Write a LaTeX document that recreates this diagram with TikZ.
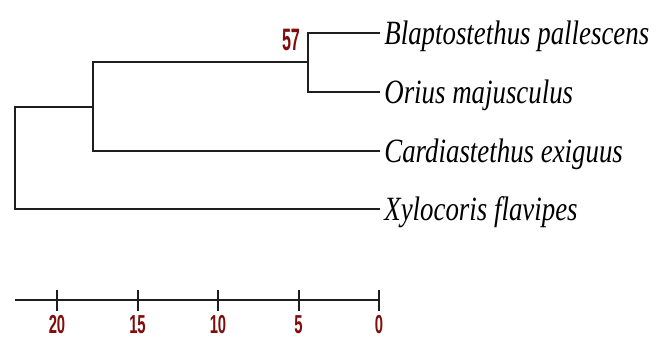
\documentclass[tikz,border=0pt]{standalone}
\usepackage{fontspec}
\setmainfont{Liberation Serif}
\newfontfamily\numfont{Liberation Sans}
\usepackage{tikz}
\usetikzlibrary{positioning,calc}
\definecolor{bootred}{RGB}{128,12,12}
\definecolor{branch}{RGB}{30,30,30}
\newcommand{\narrow}[2]{\scalebox{#1}[1]{#2}}

\begin{document}
\begin{tikzpicture}[
    x=0.5pt, y=-0.5pt,
    every node/.style={inner sep=0},
    branchline/.style={draw=branch, line width=1pt},
    taxon/.style={anchor=base west, yshift=-5.8pt,
        font=\fontsize{17}{18}\selectfont\itshape},
    support/.style={text=bootred, font=\numfont\bfseries\fontsize{15.5}{15.5}\selectfont},
    ticklabel/.style={text=bootred, font=\numfont\bfseries\fontsize{13}{13}\selectfont}
]
\useasboundingbox (0,0) rectangle (660,337) ;
% internal nodes and tips
\coordinate (root) at (15,107) ;
\coordinate (inner) at (93,62) ;
\coordinate (top) at (308,33) ;
\coordinate (tipB) at (380,33) ;
\coordinate (tipO) at (380,92) ;
\coordinate (tipC) at (380,151) ;
\coordinate (tipX) at (380,209) ;
% tree
\draw[branchline] (tipX) -| (root) |- (inner |- root) ;
\draw[branchline] (tipC) -| (inner) -- (top |- inner) ;
\draw[branchline] (tipO) -| (top) -- (tipB) ;
\draw[branchline] (inner |- root) -- (inner |- tipC) ;
% labels
\node[taxon, right=2pt of tipB, anchor=base west] (blapto) {\narrow{0.79}{Blaptostethus pallescens}} ;
\node[taxon, right=2pt of tipO, anchor=base west] (orius) {\narrow{0.79}{Orius majusculus}} ;
\node[taxon, right=2pt of tipC, anchor=base west] (cardia) {\narrow{0.79}{Cardiastethus exiguus}} ;
\node[taxon, right=2pt of tipX, anchor=base west] (xylo) {\narrow{0.79}{Xylocoris flavipes}} ;
\node[support] (boot) at (291,40) {\narrow{0.52}{57}} ;
% scale bar
\coordinate (barL) at (15,300) ;
\coordinate (barR) at (379,300) ;
\draw[branchline] (barL) -- (barR) ;
\foreach \t in {0,5,...,20} {
    \coordinate (tick\t) at ({379-16.1*\t},300) ;
    \draw[branchline] ($(tick\t)+(0,-10)$) -- ($(tick\t)+(0,11)$) ;
    \node[ticklabel] (lab\t) at ($(tick\t)+(0,25)$) {\narrow{0.57}{\t}} ;
}
\end{tikzpicture}
\end{document}
